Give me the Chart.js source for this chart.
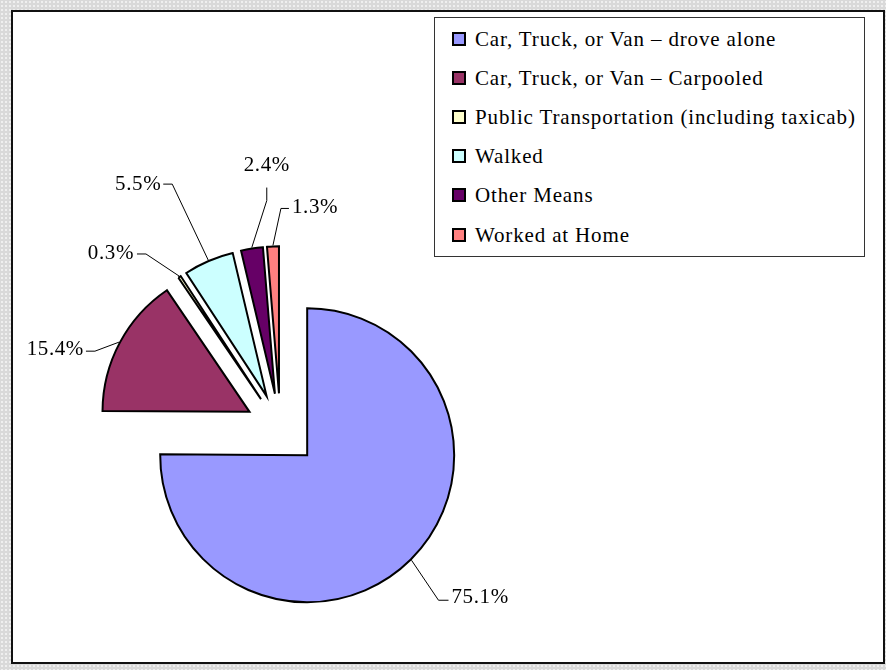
<!DOCTYPE html>
<html>
<head>
<meta charset="utf-8">
<script src="https://cdn.jsdelivr.net/npm/chart.js@4/dist/chart.umd.min.js"></script>
<style>
html,body{margin:0;padding:0;}
body{width:886px;height:670px;position:relative;overflow:hidden;
  background-color:#d9d9d9;
  background-image:radial-gradient(circle,#efefef 0.9px,transparent 1.3px);
  background-size:4px 4px;}
#frame{position:absolute;left:11px;top:10px;width:870px;height:650px;background:#fff;border:2px solid #111;}
#c{position:absolute;left:0;top:0;}
#legend{position:absolute;left:434px;top:17px;width:429px;height:238px;border:1px solid #333;background:#fff;
  font-family:'Liberation Serif',serif;font-size:21px;letter-spacing:0.85px;color:#000;}
.item{position:absolute;left:0;height:20px;line-height:20px;white-space:nowrap;}
.box{position:absolute;left:17px;top:3px;width:10px;height:10px;border:2px solid #000;}
.txt{position:absolute;left:40px;top:0;}
</style>
</head>
<body>
<div id="frame"></div>
<canvas id="c" width="886" height="670"></canvas>
<div id="legend"></div>
<script>
// ---- data ----
const categories = [
  'Car, Truck, or Van \u2013 drove alone',
  'Car, Truck, or Van \u2013 Carpooled',
  'Public Transportation (including taxicab)',
  'Walked',
  'Other Means',
  'Worked at Home'
];
const shares = [75.1, 15.4, 0.3, 5.5, 2.4, 1.3];
const percentLabels = ['75.1%', '15.4%', '0.3%', '5.5%', '2.4%', '1.3%'];
const sliceColors = ['#9999FF', '#993366', '#FFFFCC', '#CCFFFF', '#660066', '#FF8080'];

// ---- HTML legend built from the same arrays ----
const legendEl = document.getElementById('legend');
categories.forEach((name, i) => {
  const row = document.createElement('div');
  row.className = 'item';
  row.style.top = (10.5 + 39.2 * i) + 'px';
  const box = document.createElement('span');
  box.className = 'box';
  box.style.background = sliceColors[i];
  const txt = document.createElement('span');
  txt.className = 'txt';
  txt.textContent = name;
  row.appendChild(box); row.appendChild(txt);
  legendEl.appendChild(row);
});

// ---- explode slices (shift each arc's centre along its bisector) ----
const explodePlugin = {
  id: 'explode',
  afterDatasetUpdate(chart, args, opts) {
    args.meta.data.forEach((arc, i) => {
      const d = opts.distances[i] || 0;
      const mid = (arc.startAngle + arc.endAngle) / 2;
      arc.x += d * Math.cos(mid);
      arc.y += d * Math.sin(mid);
    });
  }
};

// ---- percentage labels with leader lines ----
const leaderPlugin = {
  id: 'leaders',
  afterDatasetsDraw(chart, args, opts) {
    const ctx = chart.ctx;
    const meta = chart.getDatasetMeta(0);
    ctx.save();
    ctx.strokeStyle = '#000';
    ctx.lineWidth = 1;
    ctx.fillStyle = '#000';
    ctx.font = '21px "Liberation Serif", serif';
    if ('letterSpacing' in ctx) ctx.letterSpacing = '0.6px';
    ctx.textBaseline = 'alphabetic';
    meta.data.forEach((arc, i) => {
      const p = opts.placement[i];
      const mid = (arc.startAngle + arc.endAngle) / 2;
      const r = arc.outerRadius + 1;
      const ex = arc.x + r * Math.cos(mid), ey = arc.y + r * Math.sin(mid);
      const bx = ex + p.elbow[0], by = ey + p.elbow[1];
      const tx = bx + p.tail[0], ty = by + p.tail[1];
      ctx.beginPath();
      ctx.moveTo(ex, ey);
      ctx.lineTo(bx, by);
      ctx.lineTo(tx, ty);
      ctx.stroke();
      ctx.textAlign = p.align;
      ctx.fillText(percentLabels[i], tx + p.text[0], ty + p.text[1]);
    });
    ctx.restore();
  }
};

new Chart(document.getElementById('c'), {
  type: 'pie',
  data: {
    labels: categories,
    datasets: [{
      data: shares,
      backgroundColor: sliceColors,
      borderColor: '#000',
      borderWidth: 2,
      borderJoinStyle: 'miter',
      radius: 147,
      clip: false
    }]
  },
  options: {
    responsive: false,
    animation: false,
    radius: 147,
    events: [],
    layout: { padding: { left: 0, right: 325.2, top: 186.6, bottom: 0 } },
    plugins: {
      legend: { display: false },
      tooltip: { enabled: false },
      explode: { distances: [38, 35, 35, 35, 35, 35] },
      leaders: {
        placement: [
          { elbow: [27, 40],   tail: [10, 0],  text: [3, 3],   align: 'left' },
          { elbow: [-24, 9],   tail: [-9, 0],  text: [-2, 4],  align: 'right' },
          { elbow: [-33, -22], tail: [-9, 0],  text: [-3, 5],  align: 'right' },
          { elbow: [-36, -76], tail: [-9, 0],  text: [-2, 6],  align: 'right' },
          { elbow: [15, -47],  tail: [0, -13], text: [0, -17], align: 'center' },
          { elbow: [8, -37],   tail: [8, 0],   text: [3, 5],   align: 'left' }
        ]
      }
    }
  },
  plugins: [explodePlugin, leaderPlugin]
});
</script>
</body>
</html>
